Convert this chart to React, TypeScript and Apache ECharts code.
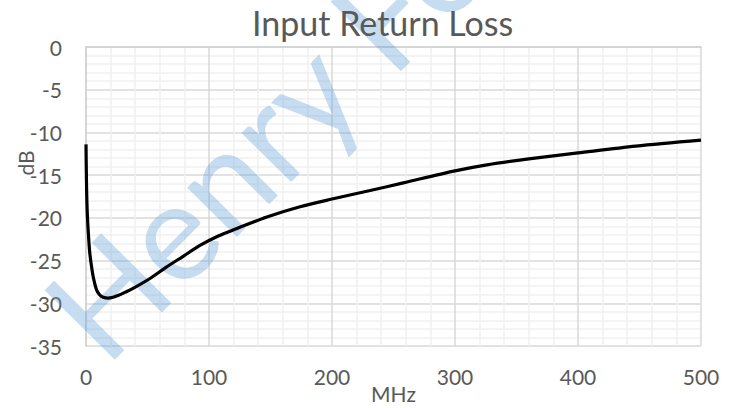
import React, { useEffect, useRef } from "react";
import * as echarts from "echarts";

const freqMHz = [0, 0.3, 0.7, 1.2, 2, 3, 4.5, 6, 8.5, 11, 14, 18, 22, 26, 32, 39, 52, 65, 79, 93, 108, 120, 147, 174, 200, 231, 258, 300, 326, 360, 400, 447, 500];
const returnLossDb = [-11.4, -15, -18, -20, -22, -24, -25.7, -27, -28.4, -29, -29.3, -29.4, -29.3, -29.1, -28.7, -28.2, -27.1, -25.8, -24.5, -23.2, -22.1, -21.4, -19.9, -18.7, -17.8, -16.8, -15.9, -14.5, -13.8, -13.1, -12.4, -11.6, -10.9];

const FONT = "Lato";
const TXT = "#595959";

export default function App() {
  const ref = useRef<HTMLDivElement>(null);
  useEffect(() => {
    document.body.style.margin = "0";
    const chart = echarts.init(ref.current!, null, { renderer: "svg" });
    chart.setOption({
      animation: false,
      backgroundColor: "#ffffff",
      title: {
        text: "Input Return Loss",
        left: 247,
        top: 0,
        textStyle: { fontFamily: FONT, fontSize: 34, fontWeight: "normal", color: TXT },
      },
      grid: { left: 86, right: 36, top: 47, bottom: 62, containLabel: false, outerBoundsMode: "none" },
      xAxis: {
        type: "value",
        min: 0,
        max: 500,
        interval: 100,
        name: "MHz",
        nameLocation: "middle",
        nameGap: 37,
        nameMoveOverlap: false,
        nameTextStyle: { fontFamily: FONT, fontSize: 21, color: TXT },
        axisLine: { show: true, lineStyle: { color: "#d0d0d0", width: 1.5 } },
        axisTick: { show: false },
        axisLabel: { margin: 20, fontFamily: FONT, fontSize: 21, color: TXT },
        splitLine: { show: true, lineStyle: { color: "#d9d9d9", width: 1.5 } },
        minorTick: { show: false, splitNumber: 5 },
        minorSplitLine: { show: true, lineStyle: { color: "#f0f0f0", width: 1.5 } },
      },
      yAxis: {
        type: "value",
        min: -35,
        max: 0,
        interval: 5,
        axisLine: { show: true, lineStyle: { color: "#d0d0d0", width: 1.5 } },
        axisTick: { show: false },
        axisLabel: { margin: 24, fontFamily: FONT, fontSize: 21, color: TXT },
        splitLine: { show: true, lineStyle: { color: "#d9d9d9", width: 1.5 } },
        minorTick: { show: false, splitNumber: 5 },
        minorSplitLine: { show: true, lineStyle: { color: "#f0f0f0", width: 1.5 } },
      },
      graphic: [
        {
          type: "text",
          x: 25,
          y: 163,
          rotation: Math.PI / 2,
          z: 10,
          style: { text: "dB", fontFamily: FONT, fontSize: 21, fill: TXT, align: "center", verticalAlign: "middle" },
        },
        {
          type: "text",
          x: 68,
          y: 331,
          rotation: 0.79,
          z: 1,
          silent: true,
          style: {
            text: "Henry Feng",
            fontFamily: FONT,
            fontSize: 138,
            fill: "rgba(91,155,213,0.35)",
            align: "left",
            verticalAlign: "middle",
          },
        },
      ],
      series: [
        {
          type: "line",
          data: freqMHz.map((f, i) => [f, returnLossDb[i]]),
          showSymbol: false,
          smooth: 0.3,
          z: 5,
          lineStyle: { color: "#000000", width: 3.2 },
        },
      ],
    });
    return () => chart.dispose();
  }, []);
  return <div ref={ref} style={{ width: 737, height: 408 }} />;
}
